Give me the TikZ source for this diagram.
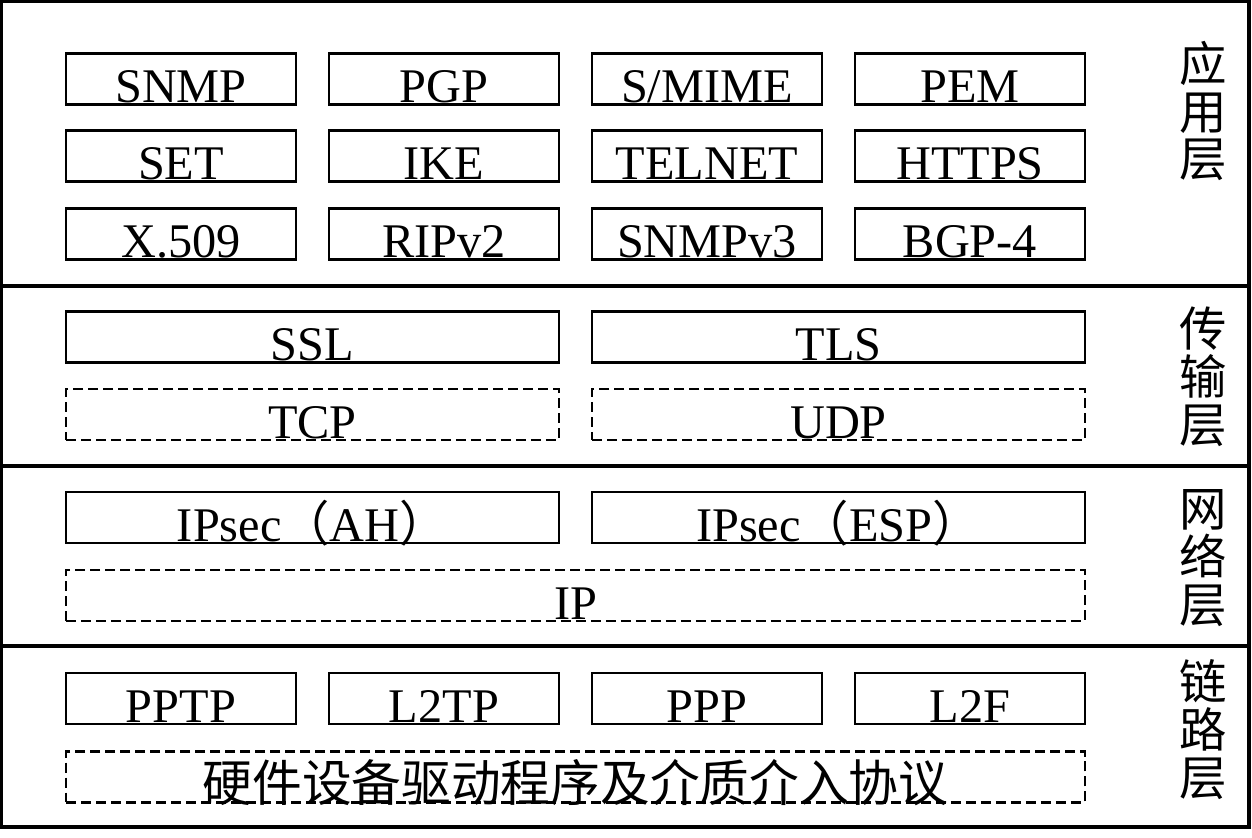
\documentclass[tikz,border=0pt]{standalone}
\usepackage{fontspec}
\setmainfont{Liberation Serif}
\newfontfamily\cjk{Noto Sans CJK SC}
\begin{document}
\begin{tikzpicture}[x=0.02cm,y=-0.02cm]
\tikzstyle{every node}=[font=\fontsize{27.5}{28}\selectfont]
\tikzstyle{box}=[draw,line width=1.5pt,inner sep=0pt,text height=0.96cm,text depth=0pt,minimum width=4.6cm,minimum height=1.02cm]
\tikzstyle{wide}=[box,minimum width=9.86cm]
\tikzstyle{full}=[box,minimum width=20.38cm]
\tikzstyle{soft}=[line width=1.2pt,dash pattern=on 0.2cm off 0.1cm]
\tikzstyle{layer}=[font=\cjk\fontsize{27}{27.3}\selectfont,align=center,inner sep=0pt]
\useasboundingbox (0,0) rectangle (1252,838);
\draw[line width=2pt] (1,1) rectangle (1249,827);
\draw[line width=2pt] (1,286) -- (1249,286);
\draw[line width=2pt] (1,466) -- (1249,466);
\draw[line width=2pt] (1,646) -- (1249,646);
% application layer
\node[box](a00) at (181,79) {SNMP};
\node[box](a01) at (444,79) {PGP};
\node[box](a02) at (707,79) {S/MIME};
\node[box](a03) at (970,79) {PEM};
\node[box](a10) at (181,156) {SET};
\node[box](a11) at (444,156) {IKE};
\node[box](a12) at (707,156) {TELNET};
\node[box](a13) at (970,156) {HTTPS};
\node[box](a20) at (181,234) {X.509};
\node[box](a21) at (444,234) {RIPv2};
\node[box](a22) at (707,234) {SNMPv3};
\node[box](a23) at (970,234) {BGP-4};
% transport layer
\node[wide](t00) at (312.5,337) {SSL};
\node[wide](t01) at (838.5,337) {TLS};
\node[wide,soft](t10) at (312.5,414.5) {TCP};
\node[wide,soft](t11) at (838.5,414.5) {UDP};
% network layer
\node[wide](n00) at (312.5,517.5) {IPsec{\cjk（}AH{\cjk）}};
\node[wide](n01) at (838.5,517.5) {IPsec{\cjk（}ESP{\cjk）}};
\node[full,soft](n10) at (575.5,595.5) {IP};
% link layer
\node[box](k00) at (181,698.5) {PPTP};
\node[box](k01) at (444,698.5) {L2TP};
\node[box](k02) at (707,698.5) {PPP};
\node[box](k03) at (970,698.5) {L2F};
\node[full,soft](k10) at (575.5,777) {\cjk\fontsize{28.3}{29}\selectfont 硬件设备驱动程序及介质介入协议};
% layer names
\node[layer](ly0) at (1203,111) {应\\用\\层};
\node[layer](ly1) at (1203,377) {传\\输\\层};
\node[layer](ly2) at (1203,558) {网\\络\\层};
\node[layer](ly3) at (1203,730) {链\\路\\层};
\end{tikzpicture}
\end{document}
